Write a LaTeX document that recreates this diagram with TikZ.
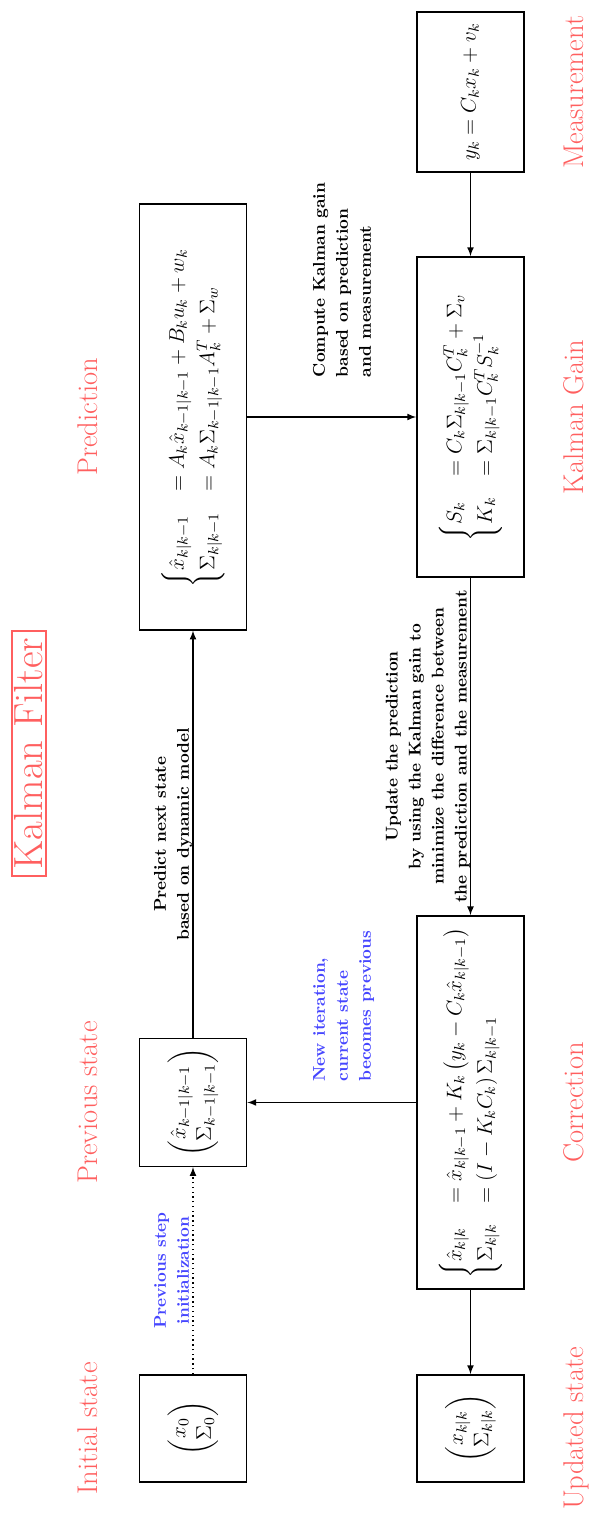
\RequirePackage{fix-cm}
\documentclass[tikz,border=0pt]{standalone}
\usepackage{amsmath, amssymb}
\usepackage{tikz}
\usetikzlibrary{arrows, positioning, calc}
\definecolor{stagered}{RGB}{255, 95, 95}
\definecolor{notesblue}{RGB}{70, 70, 255}
\newcommand{\mathsize}{\fontsize{12.4}{15}\selectfont}
\newcommand{\stagesize}{\fontsize{16.75}{20}\selectfont}
\newcommand{\notesize}{\fontsize{10}{13.5}\selectfont\bfseries}

\begin{document}
\begin{tikzpicture}[x=0.587pt, y=0.587pt, rotate=90, transform shape,
    block/.style={draw, thick, minimum height=63pt, inner sep=0pt, font=\mathsize},
    stage/.style={text=stagered, font=\stagesize, anchor=base},
    note/.style={font=\notesize, align=center, inner sep=0pt},
    bluenote/.style={note, text=notesblue},
    flow/.style={thick, -latex}]
    \useasboundingbox (0,0) rectangle (1519,589);
    % title
    \node[draw=stagered, thick, text=stagered, font=\fontsize{23.9}{28}\selectfont,
          inner xsep=4pt, inner ysep=1.6pt, anchor=base] (title) at (765.5,546) {Kalman Filter};
    % blocks
    \node[block, minimum width=63pt] (init) at (90.5,396)
        {$\begin{pmatrix} x_0\\ \Sigma_0 \end{pmatrix}$};
    \node[block, minimum width=75pt] (prev) at (416.5,396)
        {$\begin{pmatrix} \hat{x}_{k-1|k-1}\\ \Sigma_{k-1|k-1} \end{pmatrix}$};
    \node[block, minimum width=250pt] (pred) at (1102,396)
        {$\begin{cases}
            \hat{x}_{k|k-1} &= A_k\hat{x}_{k-1|k-1} + B_k u_k + w_k\\
            \Sigma_{k|k-1} &= A_k\Sigma_{k-1|k-1}A_k^T + \Sigma_w
          \end{cases}$};
    \node[block, minimum width=63pt] (upd) at (90.5,118.5)
        {$\begin{pmatrix} x_{k|k}\\ \Sigma_{k|k} \end{pmatrix}$};
    \node[block, minimum width=219pt] (corr) at (416.5,118.5)
        {$\begin{cases}
            \hat{x}_{k|k} &= \hat{x}_{k|k-1} + K_k\left(y_k - C_k\hat{x}_{k|k-1}\right)\\
            \Sigma_{k|k} &= (I - K_k C_k)\,\Sigma_{k|k-1}
          \end{cases}$};
    \node[block, minimum width=188pt] (gain) at (1102,118.5)
        {$\begin{cases}
            S_k &= C_k\Sigma_{k|k-1}C_k^T + \Sigma_v\\
            K_k &= \Sigma_{k|k-1}C_k^T S_k^{-1}
          \end{cases}$};
    \node[block, minimum width=94pt] (meas) at (1427,118.5) {$y_k = C_k x_k + v_k$};
    % stage labels
    \node[stage] (initlbl) at (90.5,491) {Initial state};
    \node[stage] (prevlbl) at (416.5,491) {Previous state};
    \node[stage] (predlbl) at (1102,491) {Prediction};
    \node[stage] (updlbl) at (90.5,5) {Updated state};
    \node[stage] (corrlbl) at (416.5,5) {Correction};
    \node[stage] (gainlbl) at (1102,5) {Kalman Gain};
    \node[stage] (measlbl) at (1427,5) {Measurement};
    % connectors
    \draw[flow, dotted] (init) -- node[bluenote, above=2pt] {Previous step\\initialization} (prev);
    \draw[flow] (prev) -- node[note, above] {Predict next state\\based on dynamic model} (pred);
    \draw[flow] (pred) -- node[note, right=23pt, yshift=-6pt, align=left]
        {Compute Kalman gain\\based on prediction\\and measurement} (gain);
    \draw[flow] (meas) -- (gain);
    \draw[flow] (gain) -- node[note, above]
        {Update the prediction\\by using the Kalman gain to\\minimize the difference between\\the prediction and the measurement} (corr);
    \draw[flow] (corr) -- node[bluenote, right=12pt, yshift=-7pt, align=left]
        {New iteration,\\current state\\becomes previous} (prev);
    \draw[flow] (corr) -- (upd);
\end{tikzpicture}
\end{document}
